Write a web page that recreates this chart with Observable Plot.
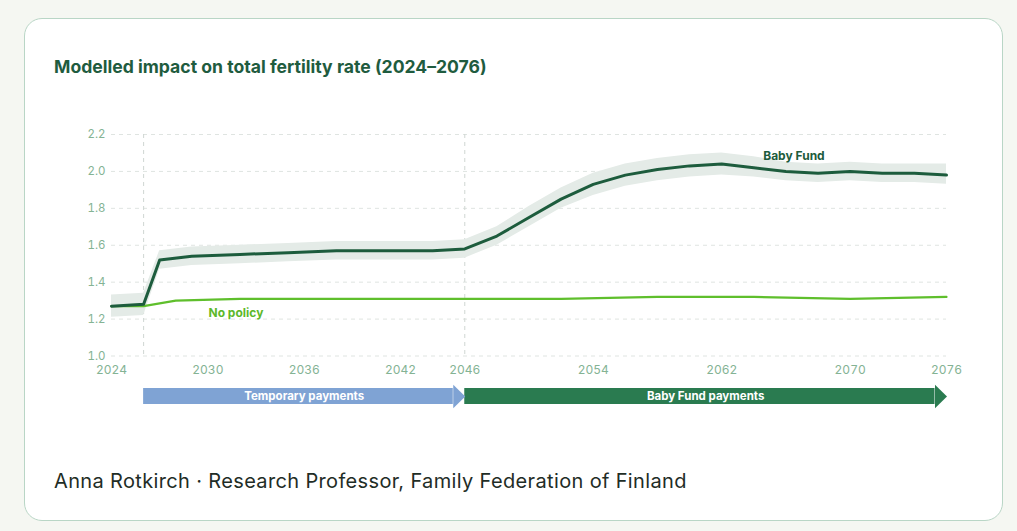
<!DOCTYPE html>
<html><head><meta charset="utf-8">
<script src="https://cdn.jsdelivr.net/npm/d3@7"></script>
<script src="https://cdn.jsdelivr.net/npm/@observablehq/plot@0.6"></script>
<style>
html,body{margin:0;padding:0;background:#f5f7f2;width:1017px;height:531px;overflow:hidden;font-family:Inter,"Noto Sans",sans-serif;}
#card{position:absolute;left:23.5px;top:18px;width:979px;height:503px;background:#fff;border:1px solid #b9d6c6;border-radius:18px;box-sizing:border-box}
#title{position:absolute;left:54px;top:56px;font-weight:700;font-size:17.6px;color:#1f5c3f;white-space:nowrap}
#chart{position:absolute;left:0;top:0}
#phases{position:absolute;left:0;top:380.3px}
#footer{position:absolute;left:54px;top:468.5px;font-size:20px;letter-spacing:0.35px;color:#1f2d26;white-space:nowrap}
</style></head><body>
<div id="card"></div>
<div id="title">Modelled impact on total fertility rate (2024–2076)</div>
<div id="chart"></div>
<div id="phases"></div>
<div id="footer">Anna Rotkirch · Research Professor, Family Federation of Finland</div>
<script>
// ---- data ----
const years     = [2024, 2026, 2027, 2029, 2032, 2035, 2038, 2041, 2044, 2046, 2048, 2050, 2052, 2054, 2056, 2058, 2060, 2062, 2064, 2066, 2068, 2070, 2072, 2074, 2076];
const babyFund  = [1.27, 1.28, 1.52, 1.54, 1.55, 1.56, 1.57, 1.57, 1.57, 1.58, 1.65, 1.75, 1.85, 1.93, 1.98, 2.01, 2.03, 2.04, 2.02, 2.00, 1.99, 2.00, 1.99, 1.99, 1.98];
const bandLow   = [1.21, 1.22, 1.47, 1.49, 1.50, 1.51, 1.52, 1.52, 1.52, 1.53, 1.60, 1.70, 1.80, 1.87, 1.92, 1.95, 1.97, 1.98, 1.97, 1.95, 1.94, 1.95, 1.94, 1.94, 1.93];
const bandHigh  = [1.33, 1.34, 1.57, 1.59, 1.60, 1.61, 1.62, 1.62, 1.62, 1.63, 1.70, 1.81, 1.91, 1.99, 2.04, 2.07, 2.09, 2.10, 2.08, 2.05, 2.04, 2.05, 2.04, 2.04, 2.04];
const npYears   = [2024, 2026, 2028, 2032, 2046, 2052, 2058, 2064, 2070, 2076];
const noPolicy  = [1.27, 1.27, 1.30, 1.31, 1.31, 1.31, 1.32, 1.32, 1.31, 1.32];
const xTicks    = [2024, 2030, 2036, 2042, 2046, 2054, 2062, 2070, 2076];
const yTicks    = [1.0, 1.2, 1.4, 1.6, 1.8, 2.0, 2.2];
const markerYears = [2026, 2046];
const seriesLabels = [
  {text: "Baby Fund", x: 2066.5, y: 2.083, color: "#1d5c3d"},
  {text: "No policy", x: 2031.75, y: 1.234, color: "#5cb82a"}
];
const phaseNames  = ["Temporary payments", "Baby Fund payments"];
const phaseStart  = [2026, 2046];
const phaseEnd    = [2046, 2076];
const phaseColors = ["#7fa3d4", "#2a7b50"];

// ---- tables ----
const bf = years.map((x, i) => ({x, y: babyFund[i], lo: bandLow[i], hi: bandHigh[i]}));
const np = npYears.map((x, i) => ({x, y: noPolicy[i]}));
const phases = phaseNames.map((name, i) => ({name, start: phaseStart[i], end: phaseEnd[i], color: phaseColors[i]}));

const font = "Inter, 'Noto Sans', sans-serif";
const tickColor = "#84b394";

const chart = Plot.plot({
  width: 1017, height: 400,
  marginLeft: 111, marginRight: 71, marginTop: 134, marginBottom: 44.5,
  style: {background: "transparent", fontFamily: font, overflow: "visible"},
  x: {domain: [2024, 2076]},
  y: {domain: [1.0, 2.2]},
  marks: [
    Plot.ruleY(yTicks, {stroke: "#dfe4e1", strokeDasharray: "4,4", strokeWidth: 1}),
    Plot.ruleX(markerYears, {stroke: "#cfd6d2", strokeDasharray: "4,4", strokeWidth: 1}),
    Plot.areaY(bf, {x: "x", y1: "lo", y2: "hi", fill: "#e4ebe7"}),
    Plot.line(np, {x: "x", y: "y", stroke: "#5fbf2c", strokeWidth: 2.2}),
    Plot.line(bf, {x: "x", y: "y", stroke: "#1d5c3d", strokeWidth: 3}),
    Plot.axisX(xTicks, {tickSize: 0, tickPadding: 9, tickFormat: d => String(d), color: tickColor, fontSize: 12, label: null}),
    Plot.axisY(yTicks, {tickSize: 0, tickPadding: 6, tickFormat: d => d.toFixed(1), color: tickColor, fontSize: 11.5, label: null}),
    Plot.text(seriesLabels, {x: "x", y: "y", text: "text", fill: "color", fontWeight: 700, fontSize: 12})
  ]
});
document.getElementById("chart").appendChild(chart);

const arrowHead = {
  draw(ctx) {
    ctx.moveTo(0.5, 0);
    ctx.lineTo(-11.5, -11.7);
    ctx.lineTo(-11.5, 11.7);
    ctx.closePath();
  }
};

const phasePlot = Plot.plot({
  width: 1017, height: 32,
  marginLeft: 111, marginRight: 71, marginTop: 8, marginBottom: 8,
  style: {background: "transparent", fontFamily: font, overflow: "visible"},
  x: {domain: [2024, 2076], axis: null},
  color: {type: "identity"},
  marks: [
    Plot.rect(phases, {x1: "start", x2: "end", fill: "color", insetRight: 11.5}),
    Plot.dot(phases, {x: "end", fill: "color", symbol: arrowHead, stroke: null}),
    Plot.text(phases, {x: d => (d.start + d.end) / 2, text: "name", fill: "white", fontWeight: 700, fontSize: 11.5})
  ]
});
document.getElementById("phases").appendChild(phasePlot);
</script>
</body></html>
